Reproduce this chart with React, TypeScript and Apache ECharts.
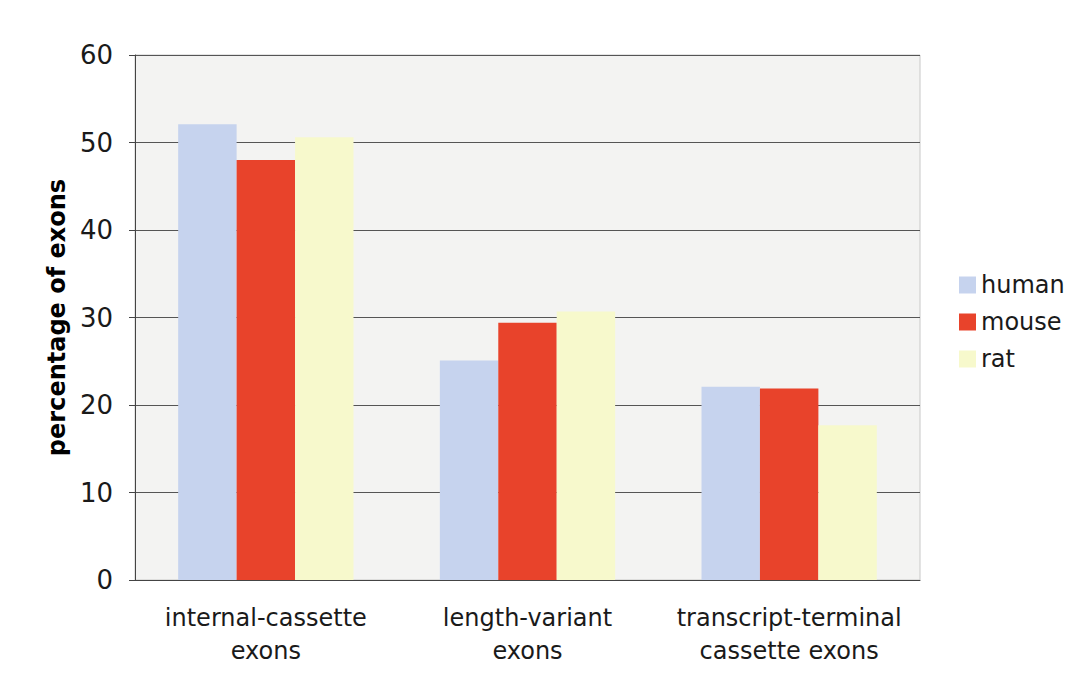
import React, { useEffect, useRef } from "react";
import * as echarts from "echarts";

// Share of alternatively spliced exons by class, per species
const categories = [
  "internal-cassette\nexons",
  "length-variant\nexons",
  "transcript-terminal\ncassette exons",
];
const human = [52.1, 25.1, 22.1];
const mouse = [48.0, 29.4, 21.9];
const rat = [50.6, 30.7, 17.7];
const yTicks = [0, 10, 20, 30, 40, 50, 60];

const FONT = "DejaVu Sans";

export default function App() {
  const ref = useRef<HTMLDivElement>(null);

  useEffect(() => {
    if (!ref.current) return;
    const chart = echarts.init(ref.current, undefined, { renderer: "svg" });
    const bar = (name: string, data: number[], color: string) => ({
      name,
      type: "bar",
      data,
      barGap: "0%",
      barCategoryGap: "33%",
      itemStyle: { color },
    });
    chart.setOption({
      animation: false,
      backgroundColor: "#ffffff",
      textStyle: { fontFamily: FONT },
      grid: {
        left: 135,
        right: 149,
        top: 55,
        bottom: 108,
        show: true,
        backgroundColor: "#f3f3f2",
        borderColor: "#c8c8c8",
        borderWidth: 1,
      },
      legend: {
        orient: "vertical",
        left: 954,
        top: 268,
        itemWidth: 17,
        itemHeight: 17,
        itemGap: 13,
        icon: "rect",
        textStyle: { fontFamily: FONT, fontSize: 24, color: "#1a1a1a" },
        data: ["human", "mouse", "rat"],
      },
      xAxis: {
        type: "category",
        data: categories,
        axisLine: { lineStyle: { color: "#444", width: 1 } },
        axisTick: { show: false },
        axisLabel: {
          interval: 0,
          fontFamily: FONT,
          fontSize: 24,
          color: "#1a1a1a",
          lineHeight: 33,
          margin: 21,
        },
      },
      yAxis: {
        type: "value",
        min: yTicks[0],
        max: yTicks[yTicks.length - 1],
        interval: 10,
        name: "percentage of exons",
        nameLocation: "middle",
        nameGap: 63,
        nameTextStyle: {
          fontFamily: FONT,
          fontSize: 24,
          fontWeight: "bold",
          color: "#000",
        },
        axisLine: { show: true, lineStyle: { color: "#444", width: 1 } },
        axisTick: { show: true, length: 6, lineStyle: { color: "#444" } },
        axisLabel: { fontFamily: FONT, fontSize: 26, color: "#1a1a1a", margin: 22 },
        splitLine: { lineStyle: { color: "#555", width: 1 } },
      },
      series: [
        bar("human", human, "#c6d3ee"),
        bar("mouse", mouse, "#e8432b"),
        bar("rat", rat, "#f7f9cc"),
      ],
    });
    return () => chart.dispose();
  }, []);

  return (
    <div
      ref={ref}
      style={{ position: "absolute", left: 0, top: 0, width: 1069, height: 688 }}
    />
  );
}
